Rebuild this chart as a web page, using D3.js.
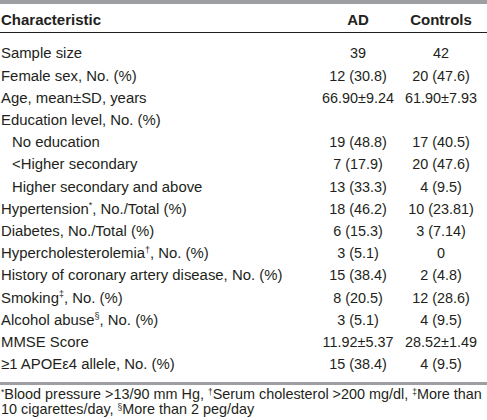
<!DOCTYPE html>
<html>
<head>
<meta charset="utf-8">
<script src="https://cdn.jsdelivr.net/npm/d3@7"></script>
<style>
html,body{margin:0;padding:0;background:#fff;}
svg{display:block;}
</style>
</head>
<body>
<svg id="chart" width="487" height="420"></svg>
<script>
const headers = ["Characteristic", "AD", "Controls"];
const characteristics = [
  "Sample size",
  "Female sex, No. (%)",
  "Age, mean±SD, years",
  "Education level, No. (%)",
  "No education",
  "<Higher secondary",
  "Higher secondary and above",
  "Hypertension",
  "Diabetes, No./Total (%)",
  "Hypercholesterolemia",
  "History of coronary artery disease, No. (%)",
  "Smoking",
  "Alcohol abuse",
  "MMSE Score",
  "≥1 APOEε4 allele, No. (%)"
];
const marks = ["", "", "", "", "", "", "", "*", "", "†", "", "‡", "§", "", ""];
const suffixes = ["", "", "", "", "", "", "", ", No./Total (%)", "", ", No. (%)", "", ", No. (%)", ", No. (%)", "", ""];
const indented = [0,0,0,0,1,1,1,0,0,0,0,0,0,0,0];
const adValues = ["39", "12 (30.8)", "66.90±9.24", "", "19 (48.8)", "7 (17.9)", "13 (33.3)", "18 (46.2)", "6 (15.3)", "3 (5.1)", "15 (38.4)", "8 (20.5)", "3 (5.1)", "11.92±5.37", "15 (38.4)"];
const controlValues = ["42", "20 (47.6)", "61.90±7.93", "", "17 (40.5)", "20 (47.6)", "4 (9.5)", "10 (23.81)", "3 (7.14)", "0", "2 (4.8)", "12 (28.6)", "4 (9.5)", "28.52±1.49", "4 (9.5)"];
const footnoteMarks = [["*", "Blood pressure >13/90 mm Hg, "], ["†", "Serum cholesterol >200 mg/dl, "], ["‡", "More than"]];
const footnoteLine2 = [["", "10 cigarettes/day, "], ["§", "More than 2 peg/day"]];

const W = 487;
const svg = d3.select("#chart");
const textColor = "#231f20";
const bodyFont = "'Liberation Sans', Arial, sans-serif";

// scales
const y = d3.scaleBand().domain(d3.range(characteristics.length)).range([42, 42 + 22.2 * characteristics.length]);
const x = d3.scaleOrdinal().domain(headers).range([1, 358, 441]);

// top gray rule
svg.append("rect").attr("x", 0).attr("y", 0).attr("width", W).attr("height", 4).attr("fill", "#9d9fa2");

// header
svg.selectAll("text.hdr").data(headers).join("text")
  .attr("class", "hdr")
  .attr("x", d => x(d))
  .attr("y", 25)
  .attr("text-anchor", (d, i) => i === 0 ? "start" : "middle")
  .attr("font-family", bodyFont)
  .attr("font-weight", "bold")
  .attr("font-size", 15)
  .attr("fill", textColor)
  .text(d => d);

svg.append("line").attr("x1", 0).attr("x2", W).attr("y1", 32.5).attr("y2", 32.5)
  .attr("stroke", "#231f20").attr("stroke-width", 1);

// rows
const rows = svg.selectAll("g.row").data(characteristics).join("g")
  .attr("class", "row")
  .attr("transform", (d, i) => `translate(0,${y(i) + y.bandwidth() / 2 + 5.2})`);

const lab = rows.append("text")
  .attr("x", (d, i) => indented[i] ? 12 : 1)
  .attr("font-family", bodyFont)
  .attr("font-size", 14.9)
  .attr("fill", textColor);
lab.append("tspan").text(d => d);
lab.append("tspan")
  .attr("font-size", 9)
  .attr("dy", (d, i) => marks[i] ? -5.5 : 0)
  .text((d, i) => marks[i]);
lab.append("tspan")
  .attr("dy", (d, i) => marks[i] ? 5.5 : 0)
  .text((d, i) => suffixes[i]);

rows.append("text")
  .attr("x", x("AD"))
  .attr("text-anchor", "middle")
  .attr("font-family", bodyFont)
  .attr("font-size", 14.4)
  .attr("fill", textColor)
  .text((d, i) => adValues[i]);

rows.append("text")
  .attr("x", x("Controls"))
  .attr("text-anchor", "middle")
  .attr("font-family", bodyFont)
  .attr("font-size", 14.4)
  .attr("fill", textColor)
  .text((d, i) => controlValues[i]);

// bottom gray rule
const bottomY = y(characteristics.length - 1) + y.bandwidth() + 7;
svg.append("rect").attr("x", 0).attr("y", bottomY).attr("width", W).attr("height", 3).attr("fill", "#9d9fa2");

// footnotes
function footLine(parts, yy) {
  const t = svg.append("text").attr("x", 1).attr("y", yy)
    .attr("font-family", "'Liberation Sans', Arial, sans-serif")
    .attr("font-size", 14.4).attr("fill", textColor);
  parts.forEach(([m, s]) => {
    if (m) {
      t.append("tspan").attr("font-size", 8.5).attr("dy", -4.5).text(m);
      t.append("tspan").attr("dy", 4.5).text(s);
    } else {
      t.append("tspan").text(s);
    }
  });
}
footLine(footnoteMarks, bottomY + 17);
footLine(footnoteLine2, bottomY + 32);
</script>
</body>
</html>
